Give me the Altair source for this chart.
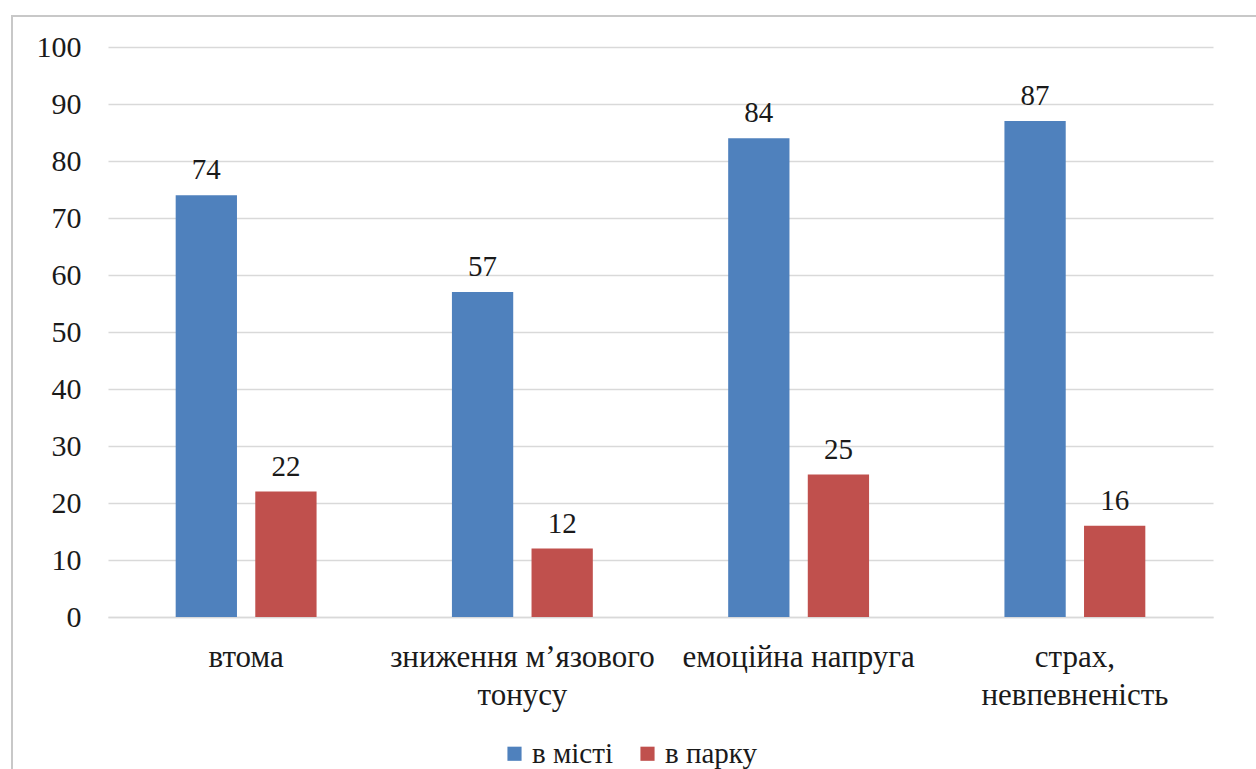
import altair as alt
import pandas as pd

categories = ["втома", "зниження м’язового тонусу", "емоційна напруга", "страх, невпевненість"]
label_lines = [["втома"], ["зниження м’язового", "тонусу"], ["емоційна напруга"], ["страх,", "невпевненість"]]
series = ["в місті", "в парку"]
city_values = [74, 57, 84, 87]
park_values = [22, 12, 25, 16]
colors = ["#4F81BD", "#C0504D"]
y_ticks = [0, 10, 20, 30, 40, 50, 60, 70, 80, 90, 100]

rows = []
for c, v1, v2 in zip(categories, city_values, park_values):
    rows.append({"cat": c, "series": series[0], "value": v1})
    rows.append({"cat": c, "series": series[1], "value": v2})
df = pd.DataFrame(rows)

FONT = "Liberation Serif"
TXT = "#1a1a1a"

parts = []
for c, lines in zip(categories, label_lines):
    arr = "[" + ", ".join("'" + l + "'" for l in lines) + "]"
    parts.append(f"datum.label == '{c}' ? {arr} : ")
label_expr = "".join(parts) + "datum.label"

x_enc = alt.X("cat:N", sort=categories, title=None,
              scale=alt.Scale(paddingInner=0.49, paddingOuter=0.245),
              axis=alt.Axis(labelAngle=0, labelFont=FONT, labelFontSize=31, labelColor=TXT,
                            labelPadding=25, labelLineHeight=38, labelExpr=label_expr,
                            ticks=False, domain=True, domainColor="#d9d9d9", domainWidth=1.5,
                            grid=False, labelLimit=400))
xoff = alt.XOffset("series:N", sort=series, scale=alt.Scale(paddingInner=0.23, paddingOuter=0))
y_enc = alt.Y("value:Q", title=None,
              scale=alt.Scale(domain=[0, 100], nice=False),
              axis=alt.Axis(values=y_ticks, labelFont=FONT, labelFontSize=30, labelColor=TXT,
                            labelPadding=27, ticks=False, domain=False,
                            gridColor="#d9d9d9", gridWidth=1.5))

bars = alt.Chart(df).mark_bar().encode(
    x=x_enc,
    xOffset=xoff,
    y=y_enc,
    color=alt.Color("series:N", sort=series,
                    scale=alt.Scale(domain=series, range=colors),
                    legend=alt.Legend(title=None, orient="none", direction="horizontal",
                                      legendX=392, legendY=692,
                                      symbolType="square", symbolSize=200, symbolStrokeWidth=0,
                                      labelFont=FONT, labelFontSize=29, labelColor=TXT,
                                      labelOffset=3, columnPadding=20)),
)

text = alt.Chart(df).mark_text(font=FONT, fontSize=29, color=TXT,
                               baseline="bottom", dy=-10).encode(
    x=alt.X("cat:N", sort=categories),
    xOffset=xoff,
    y="value:Q",
    text="value:Q",
)

frame = alt.Chart(pd.DataFrame({"k": [0]})).mark_rect(
    fill=None, stroke="#c8c8c8", strokeWidth=2
).encode(
    x=alt.value(-96), x2=alt.value(1300), y=alt.value(-31), y2=alt.value(800)
)

chart = alt.layer(bars, text, frame).properties(
    width=1105, height=570,
    autosize=alt.AutoSizeParams(type="none"),
    padding={"left": 108, "top": 47, "right": 43, "bottom": 152},
    background="white",
).configure_view(stroke=None)

chart.save("out.html", embed_options={"renderer": "svg", "actions": False})
